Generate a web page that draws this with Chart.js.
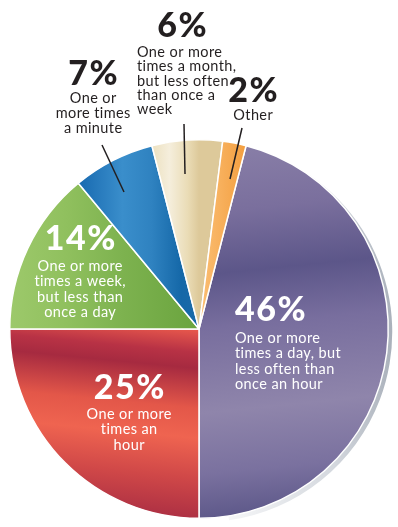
<!DOCTYPE html>
<html>
<head>
<meta charset="utf-8">
<script src="https://cdn.jsdelivr.net/npm/chart.js@4.4.1/dist/chart.umd.min.js"></script>
<style>
  html, body { margin: 0; padding: 0; background: #fff; }
  #wrap { position: relative; width: 398px; height: 527px; }
</style>
</head>
<body>
<div id="wrap"><canvas id="pieChart"></canvas></div>
<script>
// slices, clockwise from just right of 12 o'clock
const categories = [
  "One or more times a day, but less often than once an hour",
  "One or more times an hour",
  "One or more times a week, but less than once a day",
  "One or more times a minute",
  "One or more times a month, but less often than once a week",
  "Other"
];
const shares = [46, 25, 14, 7, 6, 2];
const percentLabels = ["46%", "25%", "14%", "7%", "6%", "2%"];
const descriptionLines = [
  ["One or more", "times a day, but", "less often than", "once an hour"],
  ["One or more", "times an", "hour"],
  ["One or more", "times a week,", "but less than", "once a day"],
  ["One or", "more times", "a minute"],
  ["One or more", "times a month,", "but less often", "than once a", "week"],
  ["Other"]
];

Chart.defaults.font.family = "Lato, 'Open Sans', sans-serif";

// fills: gradient line in chart-area fractions + colour stops
const sliceGradients = [
  { from: [0.45, 0], to: [0.55, 1], stops: [[0, "#8b81a9"], [0.2, "#7a6f9d"], [0.36, "#5c5689"], [0.5, "#786e9e"], [0.72, "#8f85ab"], [0.88, "#7a719f"], [1, "#5d5889"]] },
  { from: [0.3, 0.48], to: [0.25, 1], stops: [[0, "#ea5a4c"], [0.12, "#b83245"], [0.2, "#a62a40"], [0.4, "#e35749"], [0.55, "#ef6450"], [0.75, "#d04848"], [1, "#a62b42"]] },
  { from: [0, 0.5], to: [0.5, 0.5], stops: [[0, "#9dc96b"], [0.3, "#90c05e"], [0.6, "#7db24f"], [1, "#6aa43e"]] },
  { from: [0.19, 0.5], to: [0.5, 0.5], stops: [[0, "#1a6cb2"], [0.35, "#3a8ecb"], [0.6, "#2f82c0"], [0.85, "#1568a8"], [1, "#1a6aa8"]] },
  { from: [0.38, 0.5], to: [0.5, 0.5], stops: [[0, "#ede2c2"], [0.35, "#f5eedc"], [0.75, "#eadcb6"], [1, "#ddc99a"]] },
  { from: [0.5, 0.5], to: [0.64, 0.5], stops: [[0, "#fbbf75"], [1, "#f29a38"]] }
];

function sliceFill(context) {
  const chart = context.chart;
  const area = chart.chartArea;
  const g = sliceGradients[context.dataIndex];
  if (!area) return g.stops[0][1];
  const w = area.right - area.left;
  const h = area.bottom - area.top;
  const grad = chart.ctx.createLinearGradient(
    area.left + g.from[0] * w, area.top + g.from[1] * h,
    area.left + g.to[0] * w, area.top + g.to[1] * h
  );
  g.stops.forEach((s) => grad.addColorStop(s[0], s[1]));
  return grad;
}

// label layout (text anchor, alignment, colour)
const labelLayout = [
  { x: 235, y: 321, align: "left", color: "#ffffff", lineY: 342.5, step: 15.5 },
  { x: 129, y: 399, align: "center", color: "#ffffff", lineY: 418.5, step: 15.5 },
  { x: 80, y: 250, align: "center", color: "#ffffff", lineY: 271, step: 15.3 },
  { x: 93, y: 85, align: "center", color: "#231f20", lineY: 103, step: 15 },
  { x: 182, y: 37, align: "center", color: "#231f20", lineY: 57, step: 14.3, textX: 137, textAlign: "left" },
  { x: 253, y: 102, align: "center", color: "#231f20", lineY: 120, step: 15 }
];
const leaderLines = [
  [102, 145, 124, 192],
  [184, 124, 185, 174],
  [242, 128, 230, 179]
];

const shadowPlugin = {
  id: "rimShadow",
  beforeDatasetsDraw(chart) {
    const arc = chart.getDatasetMeta(0).data[0];
    if (!arc) return;
    const ctx = chart.ctx;
    ctx.save();
    const grad = ctx.createLinearGradient(arc.x, 0, arc.x + arc.outerRadius + 4, 0);
    grad.addColorStop(0, "#ffffff");
    grad.addColorStop(0.7, "#d4d8de");
    grad.addColorStop(1, "#aab1bb");
    ctx.fillStyle = grad;
    ctx.beginPath();
    ctx.arc(arc.x + 3, arc.y + 3, arc.outerRadius + 1, -Math.PI / 2.6, Math.PI / 2.2);
    ctx.lineTo(arc.x, arc.y);
    ctx.closePath();
    ctx.fill();
    ctx.restore();
  }
};

const labelPlugin = {
  id: "sliceLabels",
  afterDatasetsDraw(chart) {
    const ctx = chart.ctx;
    ctx.save();
    ctx.strokeStyle = "#231f20";
    ctx.lineWidth = 1.5;
    leaderLines.forEach((l) => {
      ctx.beginPath();
      ctx.moveTo(l[0], l[1]);
      ctx.lineTo(l[2], l[3]);
      ctx.stroke();
    });
    ctx.textBaseline = "alphabetic";
    labelLayout.forEach((p, i) => {
      ctx.fillStyle = p.color;
      ctx.textAlign = p.align;
      ctx.font = "900 34px Lato, sans-serif";
      ctx.letterSpacing = "1.5px";
      ctx.fillText(percentLabels[i], p.x + (p.align === "center" ? 0.75 : 0), p.y);
      ctx.font = "14.5px Lato, sans-serif";
      ctx.letterSpacing = "0.4px";
      ctx.textAlign = p.textAlign || p.align;
      const tx = p.textX !== undefined ? p.textX : p.x;
      descriptionLines[i].forEach((line, j) => {
        ctx.fillText(line, tx + (ctx.textAlign === "center" ? 0.2 : 0), p.lineY + j * p.step);
      });
    });
    ctx.restore();
  }
};

new Chart(document.getElementById("pieChart"), {
  type: "pie",
  data: {
    labels: categories,
    datasets: [{
      data: shares,
      backgroundColor: sliceFill,
      borderColor: "#ffffff",
      borderWidth: 1.5
    }]
  },
  options: {
    responsive: true,
    maintainAspectRatio: false,
    animation: false,
    rotation: 14.4,
    layout: { padding: { left: 9, right: 9, top: 139, bottom: 8 } },
    plugins: {
      legend: { display: false },
      tooltip: { enabled: false }
    }
  },
  plugins: [shadowPlugin, labelPlugin]
});
</script>
</body>
</html>
